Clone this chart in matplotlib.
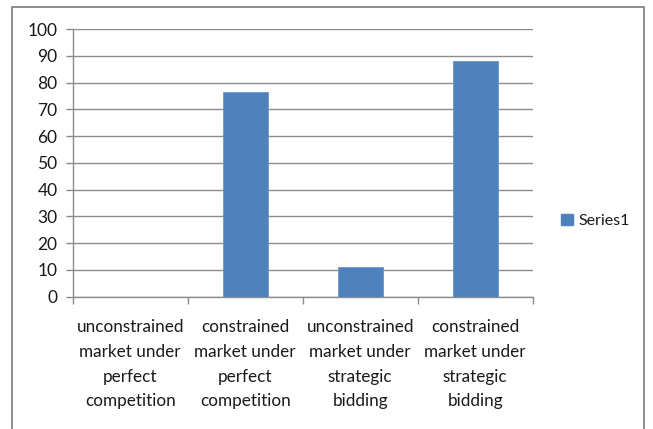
import matplotlib
matplotlib.use("Agg")
import matplotlib.pyplot as plt
from matplotlib.patches import Rectangle, Patch

categories = [
    "unconstrained\nmarket under\nperfect\ncompetition",
    "constrained\nmarket under\nperfect\ncompetition",
    "unconstrained\nmarket under\nstrategic\nbidding",
    "constrained\nmarket under\nstrategic\nbidding",
]
series1 = [0.0, 76.3, 11.2, 88.0]
series_name = "Series1"
y_ticks = [0, 10, 20, 30, 40, 50, 60, 70, 80, 90, 100]

plt.rcParams["font.family"] = ["Lato", "DejaVu Sans"]

W, H = 653, 429
fig = plt.figure(figsize=(W / 100, H / 100), dpi=100)
fig.patch.set_facecolor("white")

bar_color = "#4F81BD"
grid_color = "#8C8C8C"
text_color = "#1A1A1A"

# outer chart frame
fig.add_artist(Rectangle((12 / W, -0.05), (644 - 12) / W, 1 - 7 / H + 0.05,
                         transform=fig.transFigure, fill=False,
                         edgecolor="#868686", lw=1.3))

ax = fig.add_axes([72.7 / W, 1 - 296.7 / H, 460 / W, (296.7 - 29) / H])
x = list(range(len(categories)))
ax.bar(x, series1, width=0.39, color=bar_color, edgecolor="#6E97CB",
       linewidth=0.6, zorder=3)

ax.set_xlim(-0.5, len(categories) - 0.5)
ax.set_ylim(0, 100)
ax.set_yticks(y_ticks)
ax.set_yticklabels([str(v) for v in y_ticks], fontsize=12.5, color=text_color)
ax.yaxis.grid(True, color=grid_color, lw=1.0, zorder=0)
ax.tick_params(axis="y", length=5, width=1, color=grid_color, pad=6)

ax.set_xticks(x)
ax.set_xticklabels(categories, fontsize=12.3, color=text_color, linespacing=1.68)
ax.tick_params(axis="x", which="major", length=0, pad=16)
ax.set_xticks([i - 0.5 for i in range(len(categories) + 1)], minor=True)
ax.tick_params(axis="x", which="minor", length=5, width=1, color=grid_color)

for side in ("top", "right"):
    ax.spines[side].set_visible(False)
for side in ("left", "bottom"):
    ax.spines[side].set_color(grid_color)
    ax.spines[side].set_linewidth(1.0)

fig.legend(handles=[Patch(facecolor=bar_color, edgecolor=bar_color, label=series_name)],
           loc="center left", bbox_to_anchor=(547 / W, 1 - 221 / H),
           frameon=False, fontsize=11.5, handlelength=0.7, handleheight=0.7,
           handletextpad=0.35, labelcolor=text_color)

fig.savefig("out.png", dpi=100, facecolor="white")
